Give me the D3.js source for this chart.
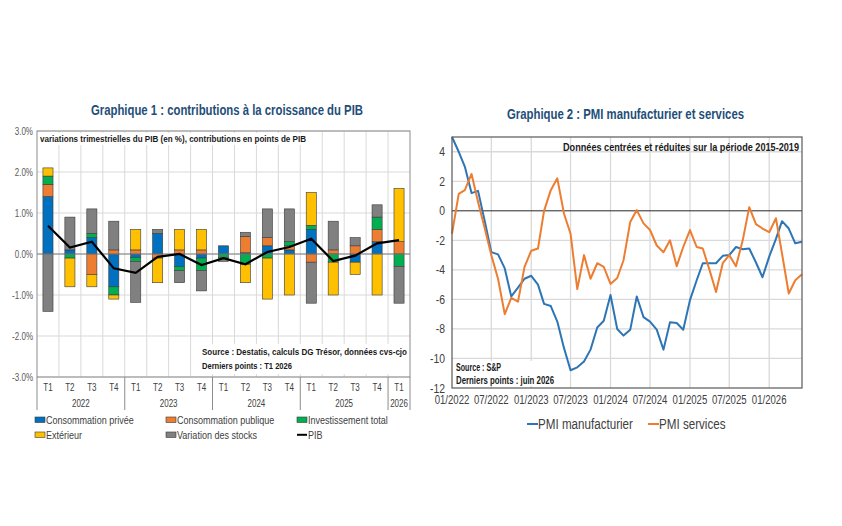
<!DOCTYPE html>
<html>
<head>
<meta charset="utf-8">
<script src="https://cdn.jsdelivr.net/npm/d3@7"></script>
<style>
  body { margin: 0; background: #fff; }
  svg { display: block; }
</style>
</head>
<body>
<svg id="chart" width="842" height="526"></svg>
<script>
// ---- data: chart 1 (contributions, points de PIB) ----
const quarterLabels = ['T1','T2','T3','T4','T1','T2','T3','T4','T1','T2','T3','T4','T1','T2','T3','T4','T1'];
const yearLabels = ['2022','2023','2024','2025','2026'];
const yearSizes = [4, 4, 4, 4, 1];
const consoPrivee   = [1.4, 0.1, 0.4, -0.8, -0.08, 0.5, -0.3, -0.1, 0.2, 0.03, 0.2, 0.1, 0.6, 0, -0.2, 0.3, 0];
const consoPublique = [0.3, 0, -0.5, 0.1, 0.1, -0.1, 0.1, 0.1, 0, 0.4, 0.2, 0.1, -0.2, 0.1, 0.2, 0.3, 0.3];
const investissement = [0.2, -0.1, 0.1, -0.2, -0.1, 0, -0.1, -0.3, -0.08, -0.25, -0.1, 0.1, 0.1, -0.2, 0, 0.3, -0.3];
const exterieur     = [0.2, -0.7, -0.3, -0.1, 0.5, -0.6, 0.5, 0.5, 0, -0.45, -1.0, -1.0, 0.8, -0.8, -0.3, -1.0, 1.3];
const stocks        = [-1.4, 0.8, 0.6, 0.7, -1.0, 0.1, -0.3, -0.5, -0.1, 0.1, 0.7, 0.8, -1.0, 0.7, 0.2, 0.3, -0.9];
const pib           = [0.69, 0.16, 0.3, -0.35, -0.46, -0.07, 0.0, -0.27, -0.1, -0.25, 0.05, 0.17, 0.37, -0.17, -0.04, 0.26, 0.34];
const yTicks1 = [-3, -2, -1, 0, 1, 2, 3];

// ---- data: chart 2 (PMI, centrées-réduites) ----
const firstMonth = new Date(2022, 0, 1);
const lastMonth = new Date(2026, 5, 1);
const pmiManuf = [5.0, 4.0, 3.0, 1.2, 1.35, -0.7, -2.8, -2.95, -3.9, -5.8,
  -5.2, -4.6, -4.4, -5.0, -6.3, -6.45, -7.5, -9.3, -10.8, -10.6,
  -10.2, -9.4, -7.9, -7.45, -5.7, -8.0, -8.45, -8.05, -5.8, -7.2,
  -7.5, -8.05, -9.4, -7.55, -7.6, -8.05, -6.05, -4.7, -3.55, -3.55,
  -3.55, -3.05, -3.0, -2.45, -2.6, -2.55, -3.5, -4.5, -3.1, -1.9,
  -0.7, -1.2, -2.2, -2.1];
const pmiServices = [-1.55, 1.15, 1.4, 2.5, 0.6, -1.2, -3.0, -4.6, -7.0, -5.9,
  -6.15, -3.8, -2.7, -2.55, 0.0, 1.4, 2.2, -0.2, -1.55, -5.3,
  -3.0, -4.6, -3.55, -3.8, -4.95, -4.55, -3.35, -0.75, 0.05, -0.85,
  -1.3, -2.35, -2.8, -2.0, -3.75, -2.45, -1.3, -2.45, -2.55, -4.0,
  -5.5, -3.55, -3.0, -3.75, -2.0, 0.25, -0.9, -1.2, -1.45, -0.5,
  -2.9, -5.6, -4.7, -4.3];
const xTickLabels2 = ['01/2022','07/2022','01/2023','07/2023','01/2024','07/2024','01/2025','07/2025','01/2026'];
const yTicks2 = [-12, -10, -8, -6, -4, -2, 0, 2, 4];

const FONT = "'Liberation Sans', Arial, sans-serif";
const TITLE_COLOR = '#1f4e79';
const GRID = '#d9d9d9';

// no narrow font installed: squeeze text horizontally instead
function squeeze(sel, f) {
  sel.each(function () {
    const len = this.getComputedTextLength();
    d3.select(this).attr('textLength', len * (f || 0.8)).attr('lengthAdjust', 'spacingAndGlyphs');
  });
}

const svg = d3.select('#chart');
svg.append('rect').attr('width', 842).attr('height', 526).attr('fill', '#fff');

// =================== Graphique 1 ===================
const c1 = { left: 37, right: 410, top: 131, bottom: 377 };
const series1 = [
  { key: 'cp',   label: 'Consommation privée',   color: '#0070c0', values: consoPrivee },
  { key: 'cpub', label: 'Consommation publique', color: '#ed7d31', values: consoPublique },
  { key: 'inv',  label: 'Investissement total',  color: '#00b050', values: investissement },
  { key: 'ext',  label: 'Extérieur',             color: '#ffc000', values: exterieur },
  { key: 'stk',  label: 'Variation des stocks',  color: '#808080', values: stocks }
];
const rows = quarterLabels.map((q, i) => {
  const r = { i };
  series1.forEach(s => r[s.key] = s.values[i]);
  return r;
});
const stacked = d3.stack().keys(series1.map(s => s.key)).offset(d3.stackOffsetDiverging)(rows);

const x1 = d3.scaleBand().domain(d3.range(quarterLabels.length)).range([c1.left, c1.right]).paddingInner(0.54).paddingOuter(0.27);
const y1 = d3.scaleLinear().domain([-3, 3]).range([c1.bottom, c1.top]);
const step1 = x1.step();

const g1 = svg.append('g').attr('class', 'chart1');

// grid
g1.selectAll('.hgrid').data(yTicks1).join('line')
  .attr('x1', c1.left).attr('x2', c1.right)
  .attr('y1', d => y1(d)).attr('y2', d => y1(d))
  .attr('stroke', GRID).attr('stroke-width', 1);
g1.selectAll('.vgrid').data(d3.range(1, quarterLabels.length)).join('line')
  .attr('x1', d => c1.left + d * step1).attr('x2', d => c1.left + d * step1)
  .attr('y1', c1.top).attr('y2', c1.bottom)
  .attr('stroke', GRID).attr('stroke-width', 1);

// bars
g1.selectAll('.serie').data(stacked).join('g')
  .attr('fill', (d, i) => series1[i].color)
  .selectAll('rect').data(d => d.filter(p => p[0] !== p[1])).join('rect')
  .attr('x', d => x1(d.data.i))
  .attr('width', x1.bandwidth())
  .attr('y', d => y1(Math.max(d[0], d[1])))
  .attr('height', d => Math.abs(y1(d[0]) - y1(d[1])))
  .attr('stroke', '#3a3a3a').attr('stroke-width', 0.6);

// zero line
g1.append('line').attr('x1', c1.left).attr('x2', c1.right)
  .attr('y1', y1(0)).attr('y2', y1(0)).attr('stroke', '#7f7f7f').attr('stroke-width', 1.2);

// PIB line
g1.append('path').datum(pib)
  .attr('d', d3.line().x((d, i) => x1(i) + x1.bandwidth() / 2).y(d => y1(d)))
  .attr('fill', 'none').attr('stroke', '#000').attr('stroke-width', 2.2);

// frame
g1.append('rect').attr('x', c1.left).attr('y', c1.top)
  .attr('width', c1.right - c1.left).attr('height', c1.bottom - c1.top)
  .attr('fill', 'none').attr('stroke', '#8c8c8c').attr('stroke-width', 1);

// y labels
g1.selectAll('.ylab').data(yTicks1).join('text')
  .attr('x', 33).attr('y', d => y1(d) + 3.5)
  .attr('text-anchor', 'end').attr('font-family', FONT).attr('font-size', 10).attr('fill', '#595959')
  .text(d => d.toFixed(1) + '%')
  .call(squeeze, 0.8);

// x labels: quarters and years
g1.selectAll('.qlab').data(quarterLabels).join('text')
  .attr('x', (d, i) => x1(i) + x1.bandwidth() / 2).attr('y', 391)
  .attr('text-anchor', 'middle').attr('font-family', FONT).attr('font-size', 10).attr('fill', '#404040')
  .text(d => d)
  .call(squeeze, 0.8);
let acc = 0;
const yearPos = yearSizes.map(n => { const s = acc; acc += n; return [s, acc]; });
g1.selectAll('.ylabY').data(yearLabels).join('text')
  .attr('x', (d, i) => c1.left + (yearPos[i][0] + yearPos[i][1]) / 2 * step1).attr('y', 407)
  .attr('text-anchor', 'middle').attr('font-family', FONT).attr('font-size', 10).attr('fill', '#404040')
  .text(d => d)
  .call(squeeze, 0.8);
const seps = [0].concat(yearPos.map(p => p[1]));
g1.selectAll('.ysep').data(seps).join('line')
  .attr('x1', d => c1.left + d * step1).attr('x2', d => c1.left + d * step1)
  .attr('y1', c1.bottom).attr('y2', 410)
  .attr('stroke', '#8c8c8c').attr('stroke-width', 1);

// title & notes
g1.append('text').attr('x', 91).attr('y', 115)
  .attr('font-family', FONT).attr('font-weight', 'bold').attr('font-size', 14).attr('fill', TITLE_COLOR)
  .attr('textLength', 272).attr('lengthAdjust', 'spacingAndGlyphs')
  .text('Graphique 1 : contributions à la croissance du PIB');
g1.append('rect').attr('x', 39).attr('y', 133).attr('width', 269).attr('height', 12).attr('fill', '#fff');
g1.append('text').attr('x', 40).attr('y', 142)
  .attr('font-family', FONT).attr('font-weight', 'bold').attr('font-size', 9).attr('fill', '#1a1a1a')
  .attr('textLength', 266).attr('lengthAdjust', 'spacingAndGlyphs')
  .text('variations trimestrielles du PIB (en %), contributions en points de PIB');
g1.append('rect').attr('x', 200).attr('y', 344).attr('width', 209).attr('height', 30).attr('fill', '#fff');
g1.append('text').attr('x', 202).attr('y', 355)
  .attr('font-family', FONT).attr('font-weight', 'bold').attr('font-size', 9.5).attr('fill', '#1a1a1a')
  .attr('textLength', 205).attr('lengthAdjust', 'spacingAndGlyphs')
  .text('Source : Destatis, calculs DG Trésor, données cvs-cjo');
g1.append('text').attr('x', 202).attr('y', 369)
  .attr('font-family', FONT).attr('font-weight', 'bold').attr('font-size', 9.5).attr('fill', '#1a1a1a')
  .attr('textLength', 90).attr('lengthAdjust', 'spacingAndGlyphs')
  .text('Derniers points : T1 2026');

// legend
const legendItems = [
  { label: series1[0].label, color: series1[0].color, col: 0, row: 0 },
  { label: series1[1].label, color: series1[1].color, col: 1, row: 0 },
  { label: series1[2].label, color: series1[2].color, col: 2, row: 0 },
  { label: series1[3].label, color: series1[3].color, col: 0, row: 1 },
  { label: series1[4].label, color: series1[4].color, col: 1, row: 1 },
  { label: 'PIB', color: null, col: 2, row: 1 }
];
const legendCols = [35, 166, 297];
const leg1 = g1.selectAll('.leg').data(legendItems).join('g')
  .attr('transform', d => `translate(${legendCols[d.col]},${417 + d.row * 15})`);
leg1.filter(d => d.color).append('rect')
  .attr('width', 10).attr('height', 5.5).attr('fill', d => d.color).attr('stroke', '#3a3a3a').attr('stroke-width', 0.6);
leg1.filter(d => !d.color).append('line')
  .attr('x1', 0).attr('x2', 10).attr('y1', 2.8).attr('y2', 2.8).attr('stroke', '#000').attr('stroke-width', 2);
leg1.append('text').attr('x', 11).attr('y', 6.5)
  .attr('font-family', FONT).attr('font-size', 11).attr('fill', '#404040')
  .text(d => d.label)
  .call(squeeze, 0.82);

// =================== Graphique 2 ===================
const c2 = { left: 452, right: 802, top: 137, bottom: 388 };
const months = d3.timeMonth.range(firstMonth, d3.timeMonth.offset(lastMonth, 1));
const x2 = d3.scaleTime().domain([firstMonth, lastMonth]).range([c2.left, c2.right]);
const y2 = d3.scaleLinear().domain([-12, 5]).range([c2.bottom, c2.top]);
const xTicks2 = d3.timeMonth.every(6).range(firstMonth, lastMonth);
const g2 = svg.append('g').attr('class', 'chart2');

g2.selectAll('.hgrid').data(yTicks2.filter(d => d !== 0 && d !== -12)).join('line')
  .attr('x1', c2.left).attr('x2', c2.right)
  .attr('y1', d => y2(d)).attr('y2', d => y2(d))
  .attr('stroke', GRID).attr('stroke-width', 1.3);
g2.selectAll('.vgrid').data(xTicks2.slice(1)).join('line')
  .attr('x1', d => x2(d)).attr('x2', d => x2(d))
  .attr('y1', c2.top).attr('y2', c2.bottom)
  .attr('stroke', GRID).attr('stroke-width', 1.3);
g2.append('line').attr('x1', c2.left).attr('x2', c2.right)
  .attr('y1', y2(0)).attr('y2', y2(0)).attr('stroke', '#262626').attr('stroke-width', 1);

const line2 = d3.line().x((d, i) => x2(months[i])).y(d => y2(d));
g2.append('path').datum(pmiManuf).attr('d', line2)
  .attr('fill', 'none').attr('stroke', '#2e75b6').attr('stroke-width', 2).attr('stroke-linejoin', 'round');
g2.append('path').datum(pmiServices).attr('d', line2)
  .attr('fill', 'none').attr('stroke', '#ed7d31').attr('stroke-width', 2).attr('stroke-linejoin', 'round');

g2.append('rect').attr('x', c2.left).attr('y', c2.top)
  .attr('width', c2.right - c2.left).attr('height', c2.bottom - c2.top)
  .attr('fill', 'none').attr('stroke', '#595959').attr('stroke-width', 1.2);

g2.selectAll('.ylab').data(yTicks2).join('text')
  .attr('x', 445).attr('y', d => y2(d) + 4.5)
  .attr('text-anchor', 'end').attr('font-family', FONT).attr('font-size', 12.5).attr('fill', '#404040')
  .text(d => d)
  .call(squeeze, 0.83);
g2.selectAll('.xlab').data(xTicks2).join('text')
  .attr('x', d => x2(d)).attr('y', 404)
  .attr('text-anchor', 'middle').attr('font-family', FONT).attr('font-size', 12).attr('fill', '#404040')
  .text((d, i) => xTickLabels2[i])
  .call(squeeze, 0.8);

g2.append('text').attr('x', 507).attr('y', 119)
  .attr('font-family', FONT).attr('font-weight', 'bold').attr('font-size', 14).attr('fill', TITLE_COLOR)
  .attr('textLength', 237).attr('lengthAdjust', 'spacingAndGlyphs')
  .text('Graphique 2 : PMI manufacturier et services');
g2.append('text').attr('x', 563).attr('y', 151)
  .attr('font-family', FONT).attr('font-weight', 'bold').attr('font-size', 10).attr('fill', '#1a1a1a')
  .attr('textLength', 236).attr('lengthAdjust', 'spacingAndGlyphs')
  .text('Données centrées et réduites sur la période 2015-2019');
g2.append('rect').attr('x', 454).attr('y', 361).attr('width', 102).attr('height', 25).attr('fill', '#fff');
g2.append('text').attr('x', 456).attr('y', 371)
  .attr('font-family', FONT).attr('font-weight', 'bold').attr('font-size', 10).attr('fill', '#1a1a1a')
  .attr('textLength', 45).attr('lengthAdjust', 'spacingAndGlyphs')
  .text('Source : S&P');
g2.append('text').attr('x', 456).attr('y', 384)
  .attr('font-family', FONT).attr('font-weight', 'bold').attr('font-size', 10).attr('fill', '#1a1a1a')
  .attr('textLength', 98).attr('lengthAdjust', 'spacingAndGlyphs')
  .text('Derniers points : juin 2026');

const legend2 = [
  { label: 'PMI manufacturier', color: '#2e75b6', x: 527 },
  { label: 'PMI services', color: '#ed7d31', x: 648 }
];
const leg2 = g2.selectAll('.leg').data(legend2).join('g')
  .attr('transform', d => `translate(${d.x},424)`);
leg2.append('line').attr('x1', 0).attr('x2', 11).attr('stroke', d => d.color).attr('stroke-width', 2);
leg2.append('text').attr('x', 11).attr('y', 5)
  .attr('font-family', FONT).attr('font-size', 14).attr('fill', '#404040')
  .text(d => d.label)
  .call(squeeze, 0.83);
</script>
</body>
</html>
